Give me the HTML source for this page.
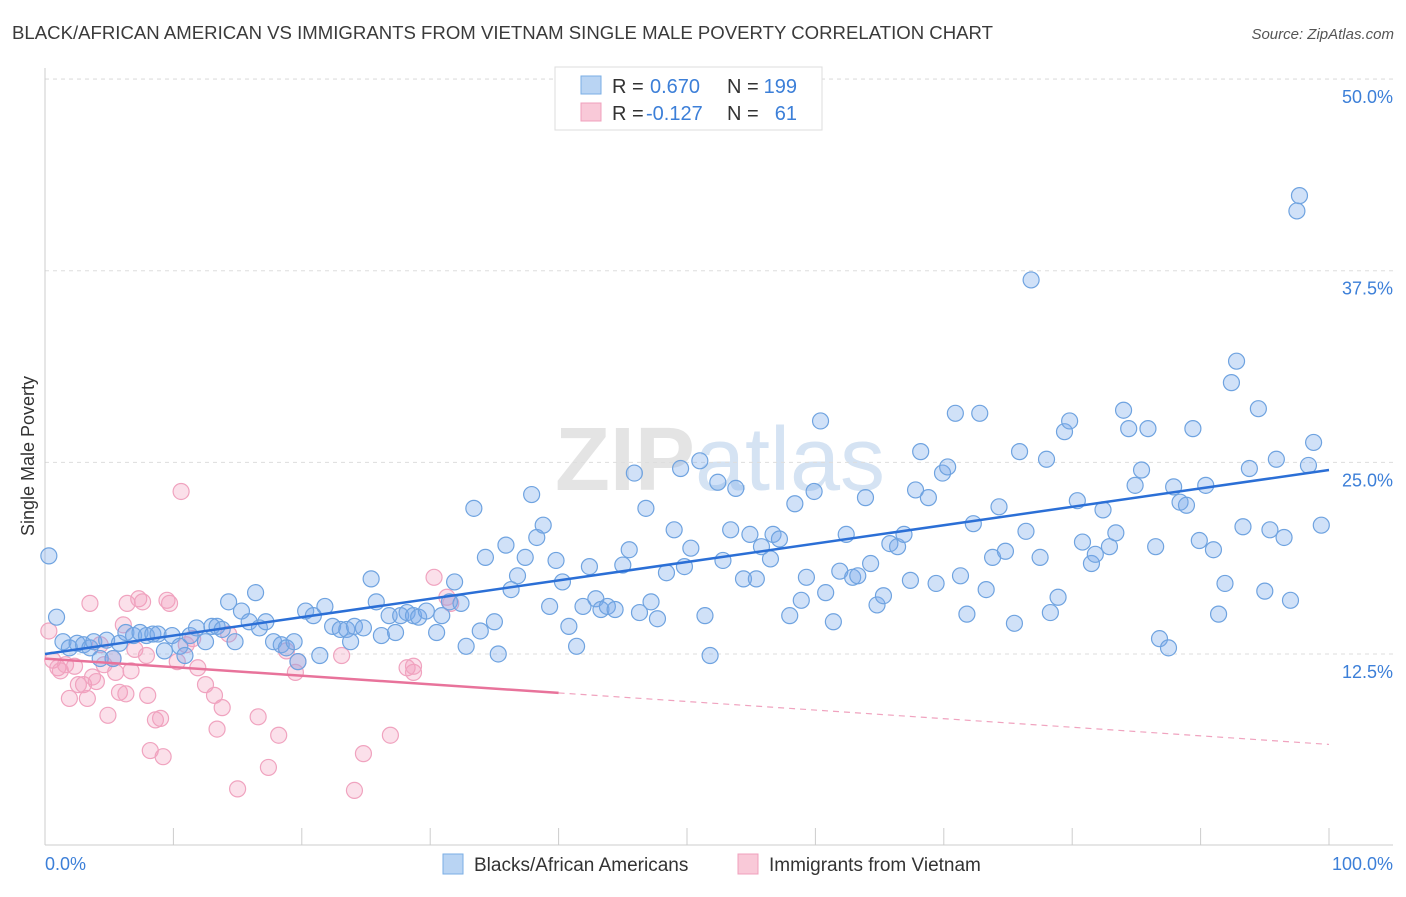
<!DOCTYPE html>
<html><head><meta charset="utf-8"><style>
body{margin:0;background:#fff;font-family:"Liberation Sans",sans-serif}
svg text{font-family:"Liberation Sans",sans-serif}
</style></head><body>
<svg id="chart" width="1406" height="892" xmlns="http://www.w3.org/2000/svg">
<text x="12" y="39" font-size="18" fill="#3a3a3a" textLength="981" lengthAdjust="spacingAndGlyphs">BLACK/AFRICAN AMERICAN VS IMMIGRANTS FROM VIETNAM SINGLE MALE POVERTY CORRELATION CHART</text>
<text x="1394" y="39" font-size="15" fill="#555" text-anchor="end" font-style="italic">Source: ZipAtlas.com</text>
<text x="720" y="490" font-size="90" fill="#e4e4e4" text-anchor="middle" font-family="Liberation Serif" font-weight="bold">ZIP<tspan fill="#d5e3f3" font-family="Liberation Sans" font-weight="normal">atlas</tspan></text>
<text transform="translate(34,456) rotate(-90)" font-size="18" fill="#333" text-anchor="middle">Single Male Poverty</text>
<g id="grid"></g><g id="ticks"></g><g id="pts"></g><g id="trend"></g>
<g>
<rect x="555" y="67" width="267" height="63" fill="#fff" stroke="#ddd"/>
<rect x="581" y="76" width="20" height="18" fill="#b9d4f3" stroke="#7aaee5"/>
<rect x="581" y="103" width="20" height="18" fill="#f9c9d8" stroke="#f0a0bc"/>
<text x="612" y="93" font-size="20" fill="#333">R =</text>
<text x="650" y="93" font-size="20" fill="#3c7fd8">0.670</text>
<text x="727" y="93" font-size="20" fill="#333">N =</text>
<text x="797" y="93" font-size="20" fill="#3c7fd8" text-anchor="end">199</text>
<text x="612" y="120" font-size="20" fill="#333">R =</text>
<text x="646" y="120" font-size="20" fill="#3c7fd8">-0.127</text>
<text x="727" y="120" font-size="20" fill="#333">N =</text>
<text x="797" y="120" font-size="20" fill="#3c7fd8" text-anchor="end">61</text>
</g>
<g>
<rect x="443" y="854" width="20" height="20" fill="#b9d4f3" stroke="#7aaee5"/>
<text x="474" y="871" font-size="19" fill="#333">Blacks/African Americans</text>
<rect x="738" y="854" width="20" height="20" fill="#f9c9d8" stroke="#f0a0bc"/>
<text x="769" y="871" font-size="19" fill="#333">Immigrants from Vietnam</text>
</g>
</svg>
<script>
const blueX=[0.3,0.9,1.4,1.9,2.5,3.0,3.5,3.8,4.3,4.8,5.3,5.8,6.3,6.9,7.4,7.9,8.4,8.8,9.3,9.9,10.5,10.9,11.3,11.8,12.5,13.0,13.4,13.8,14.3,14.8,15.3,15.9,16.4,16.7,17.2,17.8,18.4,18.8,19.4,19.7,20.3,20.9,21.4,21.8,22.4,23.0,23.5,23.8,24.1,24.8,25.4,25.8,26.2,26.8,27.3,27.7,28.2,28.7,29.1,29.7,30.5,30.9,31.5,31.9,32.4,32.8,33.4,33.9,34.3,35.0,35.3,35.9,36.3,36.8,37.4,37.9,38.3,38.8,39.3,39.8,40.3,40.8,41.4,41.9,42.4,42.9,43.3,43.8,44.4,45.0,45.5,45.9,46.3,46.8,47.2,47.7,48.4,49.0,49.5,49.8,50.3,51.0,51.4,51.8,52.4,52.8,53.4,53.8,54.4,54.9,55.4,55.8,56.5,56.7,57.2,58.0,58.4,58.9,59.3,59.9,60.4,60.8,61.4,61.9,62.4,62.9,63.3,63.9,64.3,64.8,65.3,65.8,66.4,66.9,67.4,67.8,68.2,68.8,69.4,69.9,70.3,70.9,71.3,71.8,72.3,72.8,73.3,73.8,74.3,74.8,75.5,75.9,76.4,76.8,77.5,78.0,78.3,78.9,79.4,79.8,80.4,80.8,81.5,81.8,82.4,82.9,83.4,84.0,84.4,84.9,85.4,85.9,86.5,86.8,87.5,87.9,88.4,88.9,89.4,89.9,90.4,91.0,91.4,91.9,92.4,92.8,93.3,93.8,94.5,95.0,95.4,95.9,96.5,97.0,97.5,97.7,98.4,98.8,99.4];
const blueY=[18.9,14.9,13.3,12.9,13.2,13.1,12.9,13.3,12.2,13.4,12.2,13.2,13.9,13.7,13.9,13.7,13.8,13.8,12.7,13.7,13.0,12.4,13.7,14.2,13.3,14.3,14.3,14.1,15.9,13.3,15.3,14.6,16.5,14.2,14.6,13.3,13.1,12.9,13.3,12.0,15.3,15.0,12.4,15.6,14.3,14.1,14.1,13.3,14.3,14.2,17.4,15.9,13.7,15.0,13.9,15.0,15.2,15.0,14.9,15.3,13.9,15.0,15.9,17.2,15.8,13.0,22.0,14.0,18.8,14.6,12.5,19.6,16.7,17.6,18.8,22.9,20.1,20.9,15.6,18.6,17.2,14.3,13.0,15.6,18.2,16.1,15.4,15.6,15.4,18.3,19.3,24.3,15.2,22.0,15.9,14.8,17.8,20.6,24.6,18.2,19.4,25.1,15.0,12.4,23.7,18.6,20.6,23.3,17.4,20.3,17.4,19.5,18.7,20.3,20.0,15.0,22.3,16.0,17.5,23.1,27.7,16.5,14.6,17.9,20.3,17.5,17.6,22.7,18.4,15.7,16.3,19.7,19.5,20.3,17.3,23.2,25.7,22.7,17.1,24.3,24.7,28.2,17.6,15.1,21.0,28.2,16.7,18.8,22.1,19.2,14.5,25.7,20.5,36.9,18.8,25.2,15.2,16.2,27.0,27.7,22.5,19.8,18.4,19.0,21.9,19.5,20.4,28.4,27.2,23.5,24.5,27.2,19.5,13.5,12.9,23.4,22.4,22.2,27.2,19.9,23.5,19.3,15.1,17.1,30.2,31.6,20.8,24.6,28.5,16.6,20.6,25.2,20.1,16.0,41.4,42.4,24.8,26.3,20.9];
const pinkX=[0.3,0.6,1.0,1.2,1.6,1.9,2.3,2.6,3.0,3.3,3.7,3.5,4.0,4.3,4.6,4.9,5.3,5.5,5.8,6.1,6.3,6.4,6.7,7.0,7.3,7.6,7.9,8.0,8.2,8.6,9.0,9.2,9.5,9.7,10.3,10.6,11.0,11.5,11.9,12.5,13.2,13.4,13.8,14.3,15.0,16.6,17.4,18.2,18.8,19.5,19.7,23.1,24.1,24.8,26.9,28.2,28.7,30.3,31.3,31.6,28.7];
const pinkY=[14.0,12.1,11.6,11.4,11.8,9.6,11.7,10.5,10.5,9.6,11.0,15.8,10.7,13.1,11.8,8.5,12.2,11.3,10.0,14.4,9.9,15.8,11.4,12.8,16.1,15.9,12.4,9.8,6.2,8.2,8.3,5.8,16.0,15.8,12.0,23.1,13.1,13.5,11.6,10.5,9.8,7.6,9.0,13.8,3.7,8.4,5.1,7.2,12.7,11.3,12.0,12.4,3.6,6.0,7.2,11.6,11.3,17.5,16.2,15.8,11.7];
const yTicks=[12.5,25.0,37.5,50.0];
const xTickVals=[0,10,20,30,40,50,60,70,80,90,100];
const blueTrend=[12.5,24.5];
const pinkTrend=[12.2,6.6];
const pinkSolidEnd=40;
const NS='http://www.w3.org/2000/svg';
const X0=45,X1=1329,Y0=845.6,YS=15.33;
const sx=v=>X0+(X1-X0)*v/100, sy=v=>Y0-v*YS;
function mk(t,a,p){const e=document.createElementNS(NS,t);for(const k in a)e.setAttribute(k,a[k]);p.appendChild(e);return e;}
const grid=document.getElementById('grid'),ticks=document.getElementById('ticks');
yTicks.forEach(v=>{
 const l=mk('line',{x1:45,x2:1393,y1:sy(v),y2:sy(v),stroke:'#ddd','stroke-dasharray':'4 4'},grid);
 
 
 const t=mk('text',{x:1393,y:sy(v)+24,'font-size':18,fill:'#3c7fd8','text-anchor':'end'},ticks);
 t.textContent=v.toFixed(1)+'%';
 
 
});
const topLine=mk('line',{x1:45,x2:1393,y1:79,y2:79,stroke:'#ddd','stroke-dasharray':'4 4'},grid);


const ax=mk('line',{x1:45,x2:1393,y1:845,y2:845,stroke:'#ccc'},grid);


const yax=mk('line',{x1:45,x2:45,y1:68,y2:845,stroke:'#ccc'},grid);


xTickVals.forEach(v=>{
 const l=mk('line',{x1:sx(v),x2:sx(v),y1:828,y2:845,stroke:'#ccc'},ticks);
 
 
});
const xl0=mk('text',{x:45,y:870,'font-size':18,fill:'#3c7fd8'},ticks);xl0.textContent='0.0%';


const xl1=mk('text',{x:1393,y:870,'font-size':18,fill:'#3c7fd8','text-anchor':'end'},ticks);xl1.textContent='100.0%';


const pts=document.getElementById('pts');
pinkX.forEach((x,i)=>{
 const c=mk('circle',{cx:sx(x),cy:sy(pinkY[i]),r:8,fill:'rgba(244,160,190,0.32)',stroke:'#f0a3bf','stroke-width':1.2},pts);
 
 
});
blueX.forEach((x,i)=>{
 const c=mk('circle',{cx:sx(x),cy:sy(blueY[i]),r:8,fill:'rgba(120,170,235,0.35)',stroke:'#6fa3e0','stroke-width':1.2},pts);
 
 
});
const tr=document.getElementById('trend');
const bl=mk('line',{x1:sx(0),y1:sy(blueTrend[0]),x2:sx(100),y2:sy(blueTrend[1]),stroke:'#2b6fd6','stroke-width':2.5},tr);


const pm=pinkTrend[0]+(pinkTrend[1]-pinkTrend[0])*pinkSolidEnd/100;
const pl=mk('line',{x1:sx(0),y1:sy(pinkTrend[0]),x2:sx(pinkSolidEnd),y2:sy(pm),stroke:'#e8739b','stroke-width':2.5},tr);


const pd=mk('line',{x1:sx(pinkSolidEnd),y1:sy(pm),x2:sx(100),y2:sy(pinkTrend[1]),stroke:'#f0a3bf','stroke-width':1.2,'stroke-dasharray':'6 5'},tr);


</script>
</body></html>
